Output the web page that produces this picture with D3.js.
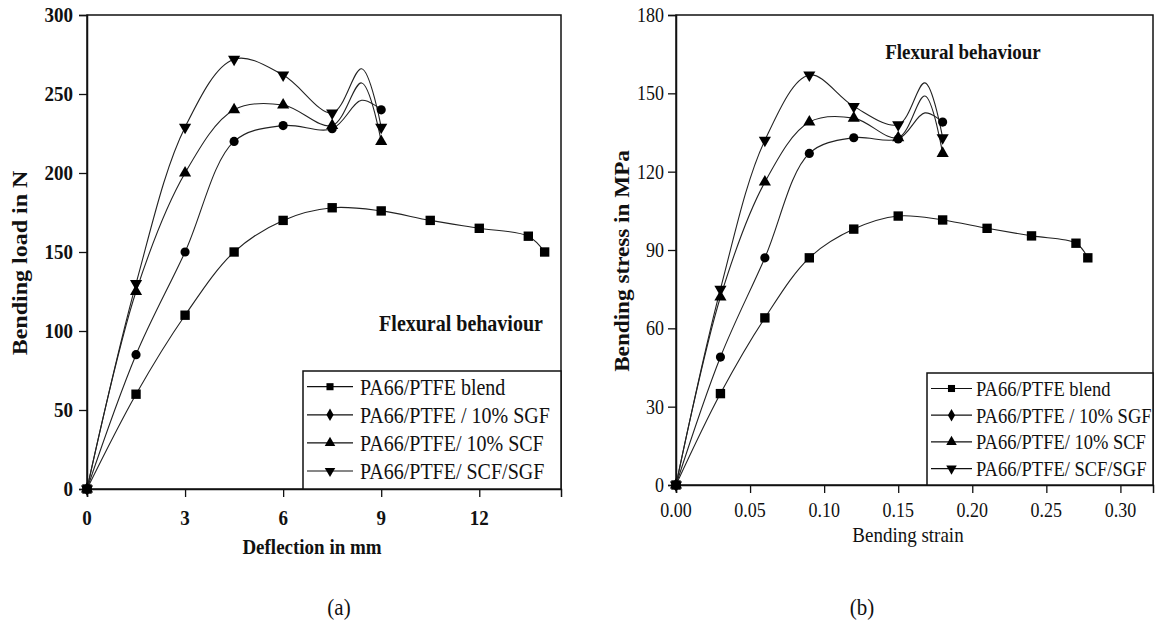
<!DOCTYPE html>
<html lang="en">
<head>
  <meta charset="UTF-8" />
  <title>Flexural behaviour</title>
  <style>
    html, body {
      margin: 0;
      background: #fff;
    }
    svg {
      display: block;
      font-family: "Liberation Serif", "DejaVu Serif", serif;
    }
    .frame {
      fill: none;
      stroke: #111;
      stroke-width: 1.5;
    }
    .curve {
      fill: none;
      stroke: #222;
      stroke-width: 1.1;
    }
  </style>
  <script src="https://d3js.org/d3.v7.min.js"></script>
</head>
<body>
  <svg id="chart" width="1156" height="630"></svg>
  <script>
    // series names (same legend in both panels)
    const seriesNames = [
      "PA66/PTFE blend",
      "PA66/PTFE / 10% SGF",
      "PA66/PTFE/ 10% SCF",
      "PA66/PTFE/ SCF/SGF"
    ];

    // (a) load vs deflection
    const deflectionBlend = [0, 1.5, 3, 4.5, 6, 7.5, 9, 10.5, 12, 13.5, 14];
    const deflection = [0, 1.5, 3, 4.5, 6, 7.5, 9];
    const loadBlend = [0, 60, 110, 150, 170, 178, 176, 170, 165, 160, 150];
    const loadSGF = [0, 85, 150, 220, 230, 228, 240];
    const loadSCF = [0, 125, 200, 240, 243, 230, 220];
    const loadHybrid = [0, 130, 229, 272, 262, 238, 229];
    // the spline hump near the last point (no symbol drawn there)
    const deflectionPeak = 8.4;
    const loadPeak = [null, 246, 257, 266];
    const deflectionTicks = [0, 3, 6, 9, 12];
    const loadTicks = [0, 50, 100, 150, 200, 250, 300];

    // (b) stress vs strain
    const strainBlend = [0, 0.03, 0.06, 0.09, 0.12, 0.15, 0.18, 0.21, 0.24, 0.27, 0.278];
    const strain = [0, 0.03, 0.06, 0.09, 0.12, 0.15, 0.18];
    const stressBlend = [0, 35, 64, 87, 98, 103, 101.5, 98.3, 95.4, 92.6, 87];
    const stressSGF = [0, 49, 87, 127, 133, 132.5, 139];
    const stressSCF = [0, 72, 116, 139, 140.5, 133, 127];
    const stressHybrid = [0, 75, 132, 157, 145, 138, 133];
    const strainPeak = 0.168;
    const stressPeak = [null, 142.5, 149, 154];
    const strainTicks = [0, 0.05, 0.10, 0.15, 0.20, 0.25, 0.30];
    const stressTicks = [0, 30, 60, 90, 120, 150, 180];

    const svg = d3.select("#chart");
    svg.append("rect").attr("width", 1156).attr("height", 630).attr("fill", "#fff");

    // squash/stretch helper so the serif text looks like the original figure
    function label(g, x, y, s, o) {
      const sy = o.sy || 1.12;
      const tr = o.rotate
        ? `translate(${x},${y}) rotate(-90) scale(${sy},1)`
        : `translate(${x},${y}) scale(1,${sy})`;
      return g.append("text")
        .attr("transform", tr)
        .attr("text-anchor", o.anchor || "middle")
        .attr("dy", "0.35em")
        .attr("font-size", o.size)
        .attr("font-weight", o.weight || "normal")
        .attr("fill", "#111")
        .text(s);
    }

    const symbols = [
      { type: d3.symbolSquare, size: 88, rot: 0, legendType: d3.symbolSquare, legendSize: 50 },
      { type: d3.symbolCircle, size: 66, rot: 0, legendType: d3.symbolDiamond, legendSize: 45 },
      { type: d3.symbolTriangle, size: 64, rot: 0, legendType: d3.symbolTriangle, legendSize: 48 },
      { type: d3.symbolTriangle, size: 64, rot: 180, legendType: d3.symbolTriangle, legendSize: 48 }
    ];

    function drawPanel(p) {
      const g = svg.append("g");
      const x = d3.scaleLinear().domain(p.xDomain).range([p.left, p.right]);
      const y = d3.scaleLinear().domain(p.yDomain).range([p.bottom, p.top]);

      // frame
      g.append("rect").attr("class", "frame")
        .attr("x", p.left).attr("y", p.top)
        .attr("width", p.right - p.left).attr("height", p.bottom - p.top);

      // axes
      const xAxis = g.append("g").attr("transform", `translate(0,${p.bottom})`)
        .call(d3.axisBottom(x).tickValues(p.xTicks).tickSize(8).tickFormat(() => ""));
      const yAxis = g.append("g").attr("transform", `translate(${p.left},0)`)
        .call(d3.axisLeft(y).tickValues(p.yTicks).tickSize(8).tickFormat(() => ""));
      [xAxis, yAxis].forEach(a => {
        a.select(".domain").attr("stroke", "#111").attr("stroke-width", 1.5);
        a.selectAll(".tick line").attr("stroke", "#111").attr("stroke-width", 1.3);
      });
      p.xTicks.forEach(t => label(g, x(t), p.bottom + p.xLabelGap, p.xFmt(t),
        { size: p.tickSize, weight: p.tickWeight }));
      p.yTicks.forEach(t => label(g, p.left - p.yLabelGap, y(t), String(t),
        { size: p.tickSize, weight: p.tickWeight, anchor: "end" }));

      // axis titles
      label(g, p.xTitlePos[0], p.xTitlePos[1], p.xTitle, { size: p.titleSize, weight: p.xTitleWeight });
      label(g, p.yTitlePos[0], p.yTitlePos[1], p.yTitle,
        { size: 20, weight: "bold", rotate: true, sy: p.yTitleStretch });
      label(g, p.notePos[0], p.notePos[1], "Flexural behaviour", { size: p.noteSize, weight: "bold" });
      label(g, p.capPos[0], p.capPos[1], p.caption, { size: 21, sy: 1.05 });

      // curves
      const line = d3.line().x(d => x(d[0])).y(d => y(d[1])).curve(d3.curveCatmullRom.alpha(0.5));
      p.series.forEach(s => {
        const pts = s.xs.map((v, k) => [v, s.ys[k]]);
        const withPeak = pts.slice();
        if (s.peak != null) {
          withPeak.push([p.peakX, s.peak]);
          withPeak.sort((a, b) => a[0] - b[0]);
        }
        g.append("path").attr("class", "curve").attr("d", line(withPeak));
        s.pts = pts;
      });
      p.series.forEach((s, i) => {
        const sym = symbols[i];
        g.selectAll(null).data(s.pts).join("path")
          .attr("d", d3.symbol().type(sym.type).size(sym.size))
          .attr("fill", "#000")
          .attr("transform", d => `translate(${x(d[0])},${y(d[1])}) rotate(${sym.rot})`);
      });

      // legend
      const L = p.legend;
      g.append("rect").attr("x", L.x0).attr("y", L.y0)
        .attr("width", p.right - L.x0).attr("height", p.bottom - L.y0)
        .attr("fill", "#fff").attr("stroke", "#111").attr("stroke-width", 1.5);
      seriesNames.forEach((n, i) => {
        const ry = L.y0 + L.firstRow + i * L.rowStep;
        const sym = symbols[i];
        g.append("line").attr("x1", L.lineX[0]).attr("x2", L.lineX[1])
          .attr("y1", ry).attr("y2", ry).attr("stroke", "#111").attr("stroke-width", 1.2);
        g.append("path")
          .attr("d", d3.symbol().type(sym.legendType).size(sym.legendSize))
          .attr("fill", "#000")
          .attr("transform", `translate(${(L.lineX[0] + L.lineX[1]) / 2},${ry}) rotate(${sym.rot})`);
        label(g, L.textX, ry, n, { size: L.size, anchor: "start", sy: 1.15 });
      });
    }

    drawPanel({
      left: 87, right: 561, top: 15, bottom: 489,
      xDomain: [0, 14.5], yDomain: [0, 300],
      xTicks: deflectionTicks, yTicks: loadTicks,
      xFmt: d => String(d),
      tickSize: 19, tickWeight: "bold", xLabelGap: 29, yLabelGap: 14,
      xTitle: "Deflection in mm", xTitleWeight: "bold", xTitlePos: [312, 547],
      yTitle: "Bending load  in N", yTitlePos: [20, 263], yTitleStretch: 1.2, titleSize: 19,
      notePos: [461, 323], noteSize: 20,
      capPos: [339, 607], caption: "(a)",
      peakX: deflectionPeak,
      series: [
        { xs: deflectionBlend, ys: loadBlend, peak: loadPeak[0] },
        { xs: deflection, ys: loadSGF, peak: loadPeak[1] },
        { xs: deflection, ys: loadSCF, peak: loadPeak[2] },
        { xs: deflection, ys: loadHybrid, peak: loadPeak[3] }
      ],
      legend: { x0: 303, y0: 371, firstRow: 15.7, rowStep: 28.1, lineX: [307, 353], textX: 360, size: 20 }
    });

    drawPanel({
      left: 676, right: 1153, top: 15, bottom: 485,
      xDomain: [0, 0.322], yDomain: [0, 180],
      xTicks: strainTicks, yTicks: stressTicks,
      xFmt: d => d.toFixed(2),
      tickSize: 18, tickWeight: "normal", xLabelGap: 25, yLabelGap: 12,
      xTitle: "Bending strain", xTitleWeight: "normal", xTitlePos: [908, 535],
      yTitle: "Bending stress in MPa", yTitlePos: [622, 261], yTitleStretch: 1.16, titleSize: 19,
      notePos: [963, 52], noteSize: 19,
      capPos: [862, 607], caption: "(b)",
      peakX: strainPeak,
      series: [
        { xs: strainBlend, ys: stressBlend, peak: stressPeak[0] },
        { xs: strain, ys: stressSGF, peak: stressPeak[1] },
        { xs: strain, ys: stressSCF, peak: stressPeak[2] },
        { xs: strain, ys: stressHybrid, peak: stressPeak[3] }
      ],
      legend: { x0: 927, y0: 373, firstRow: 15.5, rowStep: 26.7, lineX: [931, 972], textX: 976, size: 18.5 }
    });
  </script>
</body>
</html>
